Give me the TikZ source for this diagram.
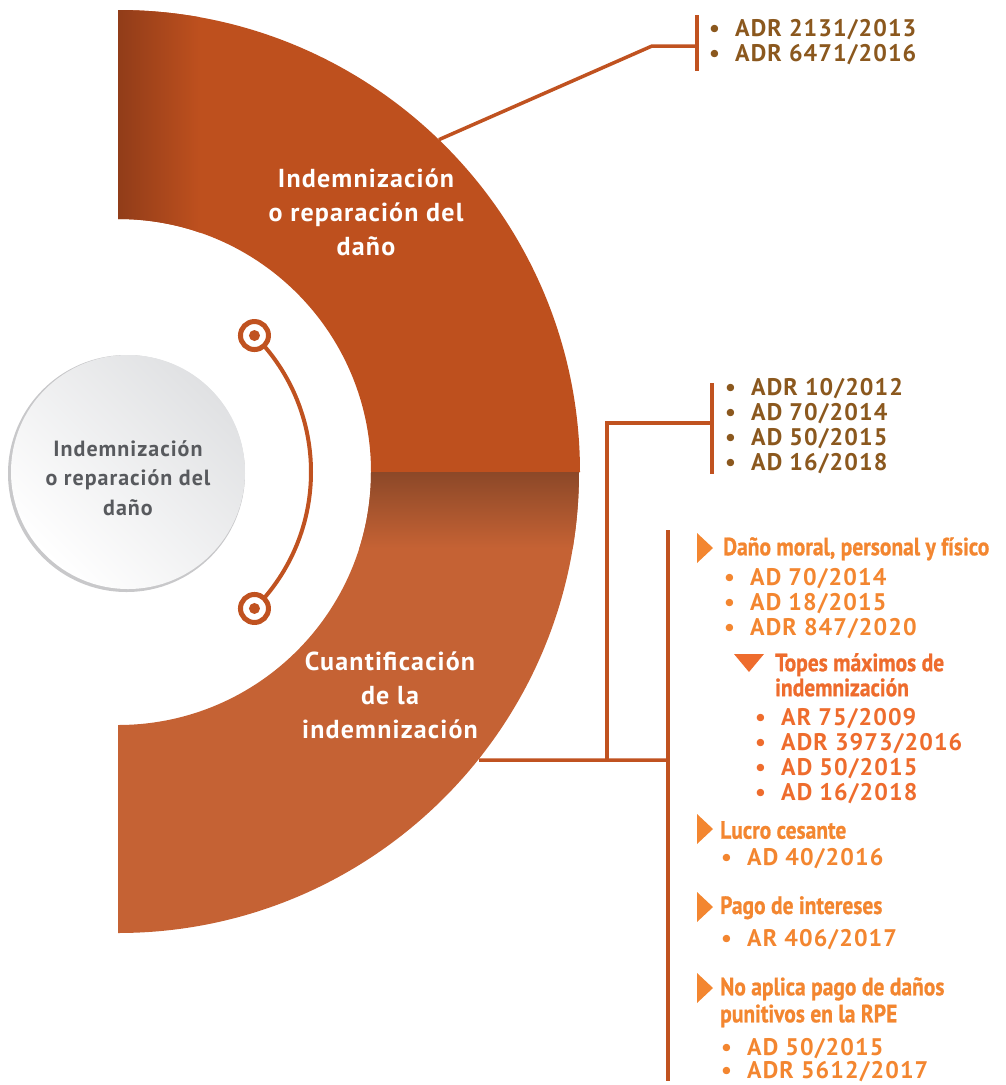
\documentclass[tikz,border=0pt]{standalone}
\usepackage{fontspec}
\setmainfont{PT Sans}[LetterSpace=4.5]
\newfontfamily\estrecha[FakeStretch=0.86, FakeBold=0.8]{PT Sans}
\usetikzlibrary{positioning}
\definecolor{sup}{RGB}{190,80,30}
\definecolor{suposcuro}{RGB}{135,56,24}
\definecolor{inf}{RGB}{197,98,52}
\definecolor{infoscuro}{RGB}{140,72,40}
\definecolor{linea}{RGB}{192,82,32}
\definecolor{marron}{RGB}{139,88,30}
\definecolor{naranja}{RGB}{243,134,48}
\definecolor{naranjarojo}{RGB}{238,108,45}
\definecolor{textogris}{RGB}{88,90,94}
\definecolor{grisclaro}{RGB}{224,225,227}
\definecolor{bordegris}{RGB}{200,200,202}
\newcommand{\vineta}{\makebox[26pt][l]{\textbullet}}

\begin{document}
\begin{tikzpicture}[
    x = 1pt, y = 1pt,
    trazo/.style = {draw=linea, line width=3.5pt},
    arco/.style = {draw=linea, line width=4pt},
    marca/.style = {circle, draw=linea, line width=5pt, fill=white,
        minimum size=28pt, inner sep=0pt,
        path picture={\fill[linea] (path picture bounding box.center) circle (5.5pt);}},
    blanco/.style = {text=white, align=center,
        font=\fontsize{26}{34}\selectfont\bfseries},
    rotgris/.style = {text=textogris, align=center,
        font=\fontsize{22}{29.5}\selectfont\bfseries},
    lista/.style = {anchor=north west, align=left, inner sep=0pt,
        font=\fontsize{24}{25}\selectfont\bfseries},
    titulo/.style = {anchor=north west, align=left, inner sep=0pt,
        font=\fontsize{25}{25}\selectfont\estrecha\bfseries},
    derecha/.pic = {\fill (0,15) -- (16,0) -- (0,-15) -- cycle;},
    abajo/.pic = {\fill (0,0) -- (30,0) -- (15,-18) -- cycle;}
    ]
    \useasboundingbox (0,0) rectangle (1005,-1085);
    \coordinate (C) at (118,-472);

    % semicircle, upper half
    \begin{scope}
        \clip (118,-10) arc[start angle=90, end angle=0, radius=462]
            -- (371,-472) arc[start angle=0, end angle=90, radius=253] -- cycle;
        \fill[sup] (100,0) rectangle (600,-480);
        \shade[left color=suposcuro, right color=sup] (100,0) rectangle (200,-480);
    \end{scope}
    % semicircle, lower half
    \begin{scope}
        \clip (118,-933) arc[start angle=-90, end angle=0, radius=461]
            -- (371,-472) arc[start angle=0, end angle=-90, radius=253] -- cycle;
        \fill[inf] (100,-470) rectangle (600,-940);
        \shade[top color=infoscuro, bottom color=inf] (100,-472) rectangle (600,-548);
    \end{scope}

    % centre circle
    \fill[bordegris] (126.5,-473.5) circle (118.5);
    \shade[top color=grisclaro, bottom color=white, shading angle=-45]
        (128,-472) circle (117);
    \node[rotgris] (centro) at (128,-478)
        {Indemnización\\o reparación del\\daño};

    % arc with the two markers
    \draw[arco] ([shift={(45:193)}]C) arc[start angle=45, end angle=-45, radius=193];
    \node[marca] (m1) at ([shift={(45:193)}]C) {};
    \node[marca] (m2) at ([shift={(-45:193)}]C) {};

    \node[blanco] (sup) at (366,-212)
        {Indemnización\\o reparación del\\daño};
    \node[blanco] (inf) at (390,-695)
        {Cuantificación\\de la\\indemnización};

    % connectors
    \coordinate (a1) at ([shift={(46:462)}]C);
    \coordinate (codo1) at (652,-46);
    \coordinate (barra1) at (697,-46);
    \coordinate (b1a) at (697,-15);
    \coordinate (b1b) at (697,-71);
    \draw[trazo] (a1) -- (codo1) -- (barra1);
    \draw[trazo] (b1a) -- (b1b);

    \coordinate (a2) at ([shift={(-38.6:462)}]C);
    \coordinate (nudo) at (607,-760);
    \coordinate (barra3) at (668,-760);
    \coordinate (codo2) at (607,-423);
    \coordinate (barra2) at (712,-423);
    \coordinate (b2a) at (712,-383);
    \coordinate (b2b) at (712,-474);
    \coordinate (b3a) at (668,-530);
    \coordinate (b3b) at (668,-1081);
    \draw[trazo] (a2) -- (barra3);
    \draw[trazo] (nudo) -- (codo2) -- (barra2);
    \draw[trazo] (b2a) -- (b2b);
    \draw[trazo] (b3a) -- (b3b);

    % lists
    \node[lista, text=marron] (l1) at (709,-19)
        {\vineta ADR 2131/2013\\\vineta ADR 6471/2016};
    \node[lista, text=marron] (l2) at (725,-378)
        {\vineta ADR 10/2012\\\vineta AD 70/2014\\\vineta AD 50/2015\\\vineta AD 16/2018};

    \pic[naranja] at (697,-548) {derecha};
    \node[titulo, text=naranja] (t1) at (723,-537) {Daño moral, personal y físico};
    \node[lista, text=naranja] (l3) at (724,-568)
        {\vineta AD 70/2014\\\vineta AD 18/2015\\\vineta ADR 847/2020};

    \pic[naranjarojo] at (734,-654) {abajo};
    \node[titulo, text=naranjarojo] (t2) at (775,-653) {Topes máximos de\\indemnización};
    \node[lista, text=naranjarojo] (l4) at (755,-708)
        {\vineta AR 75/2009\\\vineta ADR 3973/2016\\\vineta AD 50/2015\\\vineta AD 16/2018};

    \pic[naranja] at (697,-829) {derecha};
    \node[titulo, text=naranja] (t3) at (720,-821) {Lucro cesante};
    \node[lista, text=naranja] (l5) at (721,-848) {\vineta AD 40/2016};

    \pic[naranja] at (697,-907) {derecha};
    \node[titulo, text=naranja] (t4) at (720,-896) {Pago de intereses};
    \node[lista, text=naranja] (l6) at (721,-929) {\vineta AR 406/2017};

    \pic[naranja] at (697,-988) {derecha};
    \node[titulo, text=naranja] (t5) at (720,-977)
        {No aplica pago de daños\\[2pt]punitivos en la RPE};
    \node[lista, text=naranja] (l7) at (721,-1038)
        {\vineta AD 50/2015\\[-2pt]\vineta ADR 5612/2017};
\end{tikzpicture}
\end{document}
